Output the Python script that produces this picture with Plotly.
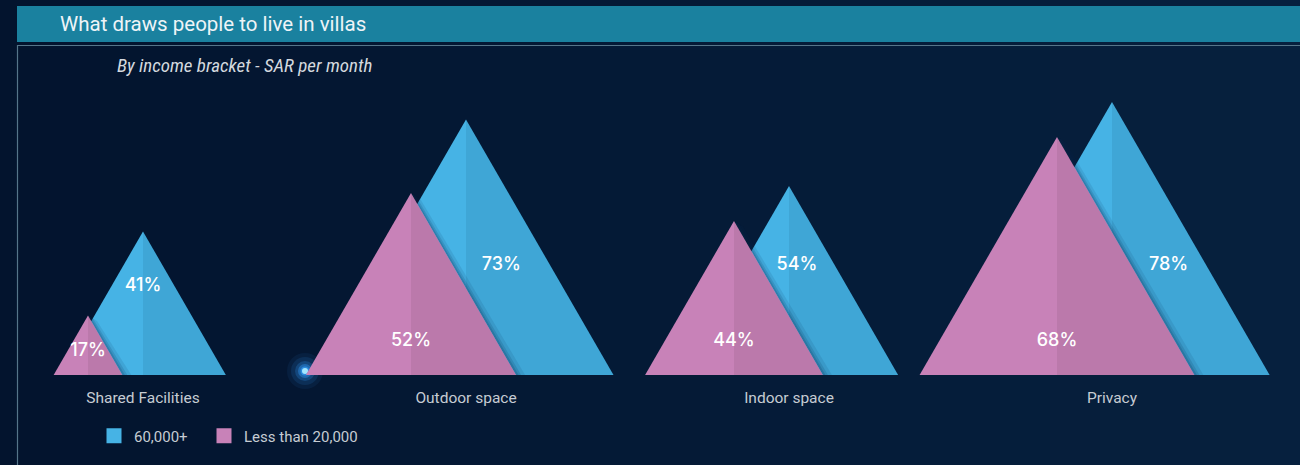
import math
import plotly.graph_objects as go

# ---- data -------------------------------------------------------------
categories = ["Shared Facilities", "Outdoor space", "Indoor space", "Privacy"]
high_income = [41, 73, 54, 78]      # 60,000+ SAR per month
low_income = [17, 52, 44, 68]       # Less than 20,000 SAR per month
series_names = ["60,000+", "Less than 20,000"]

title_text = "What draws people to live in villas"
subtitle_text = "By income bracket - SAR per month"

# ---- geometry / style -------------------------------------------------
W, H = 1300, 465
M_L, M_R, M_T, M_B = 0, 0, 95, 90
PLOT_W = W - M_L - M_R
PLOT_H = H - M_T - M_B
Y_MAX = 80                              # percent range of the value axis
PX_PER_UNIT = PLOT_H / Y_MAX            # pixels per percentage point
CAT_START, CAT_STEP = 143, 323          # category centres on the x axis (px units)
LOW_OFFSET = -55                        # low-income peak sits left of centre

BLUE_L, BLUE_R = "#46b3e5", "#3fa6d6"
PINK_L, PINK_R = "#c882b8", "#bb79ab"
BG = "#041a36"


def half_width(v):
    # equilateral triangle: half base (x units == px) from height in value units
    return v * PX_PER_UNIT / math.sqrt(3)


def px_to_paper(px, py):
    return (px - M_L) / PLOT_W, (H - M_B - py) / PLOT_H


centres = [CAT_START + i * CAT_STEP for i in range(len(categories))]

fig = go.Figure()


def add_triangle(cx, v, col_l, col_r):
    hw = half_width(v)
    fig.add_trace(go.Scatter(x=[cx - hw, cx, cx, cx - hw], y=[0, v, 0, 0], mode="lines",
                             fill="toself", fillcolor=col_l, line=dict(width=0),
                             hoverinfo="skip", showlegend=False))
    fig.add_trace(go.Scatter(x=[cx, cx, cx + hw, cx], y=[0, v, 0, 0], mode="lines",
                             fill="toself", fillcolor=col_r, line=dict(width=0),
                             hoverinfo="skip", showlegend=False))


label_x, label_y, label_t = [], [], []
plabel_x, plabel_y, plabel_t = [], [], []

for c, hv, lv in zip(centres, high_income, low_income):
    pc = c + LOW_OFFSET
    add_triangle(c, hv, BLUE_L, BLUE_R)

    # soft shadow cast by the front triangle onto the back one
    hwp = half_width(lv)
    for off, alpha in [(9, 0.10), (5, 0.14), (2.5, 0.18)]:
        fig.add_trace(go.Scatter(
            x=[pc, pc + off, pc + hwp + off, pc + hwp, pc],
            y=[lv, lv - off / PX_PER_UNIT * 0.6, 0, 0, lv], mode="lines", fill="toself",
            fillcolor=f"rgba(10,40,80,{alpha})", line=dict(width=0),
            hoverinfo="skip", showlegend=False))

    add_triangle(pc, lv, PINK_L, PINK_R)

    # value label on the visible part of the back triangle
    yl = min(110 / PX_PER_UNIT, 0.62 * hv)
    hwb = half_width(hv)
    br = c + hwb * (1 - yl / hv)
    bl = c - hwb * (1 - yl / hv)
    pr = pc + hwp * (1 - yl / lv) if yl < lv else -1e9
    label_x.append((max(bl, pr) + br) / 2)
    label_y.append(yl)
    label_t.append(f"{hv}%")

    plabel_x.append(pc)
    plabel_y.append(min(34 / PX_PER_UNIT, 0.4 * lv))
    plabel_t.append(f"{lv}%")

label_font = dict(family="Inter, Roboto, sans-serif", size=18, color="#ffffff", weight=500)
fig.add_trace(go.Scatter(x=label_x, y=label_y, text=label_t, mode="text",
                         textfont=label_font, hoverinfo="skip", showlegend=False))
fig.add_trace(go.Scatter(x=plabel_x, y=plabel_y, text=plabel_t, mode="text",
                         textfont=label_font, hoverinfo="skip", showlegend=False))

# legend entries, each in its own legend box
for name, col, lg in zip(series_names, [BLUE_L, PINK_L], ["legend", "legend2"]):
    fig.add_trace(go.Scatter(x=[None], y=[None], mode="markers", name=name, legend=lg,
                             marker=dict(symbol="square", size=15, color=col)))

# ---- decorations ------------------------------------------------------
shapes = []
# background gradient (darker on the left)
n_bands = 26
c0, c1 = (3, 20, 46), (6, 32, 62)
for i in range(n_bands):
    t = i / (n_bands - 1)
    col = tuple(round(a + (b - a) * t) for a, b in zip(c0, c1))
    x0, _ = px_to_paper(i * W / n_bands, 0)
    x1, _ = px_to_paper((i + 1) * W / n_bands + 1, 0)
    _, y0 = px_to_paper(0, H)
    _, y1 = px_to_paper(0, 0)
    shapes.append(dict(type="rect", xref="paper", yref="paper", x0=x0, x1=x1, y0=y0, y1=y1,
                       fillcolor="rgb(%d,%d,%d)" % col, line=dict(width=0), layer="below"))

# title bar
bx0, by0 = px_to_paper(17, 6)
bx1, by1 = px_to_paper(W, 42)
shapes.append(dict(type="rect", xref="paper", yref="paper", x0=bx0, x1=bx1, y0=by1, y1=by0,
                   fillcolor="#1a819f", line=dict(width=0), layer="below"))
# panel outline
fx0, fy0 = px_to_paper(17.5, 45.5)
fx1, fy1 = px_to_paper(W + 5, H + 5)
shapes.append(dict(type="rect", xref="paper", yref="paper", x0=fx0, x1=fx1, y0=fy1, y1=fy0,
                   fillcolor="rgba(0,0,0,0)", line=dict(width=1.2, color="#557589"), layer="below"))

# glowing spark
gx, gy = 305, 371
for r, a in [(18, 0.07), (14, 0.12), (10, 0.22), (7, 0.38), (4.5, 0.6)]:
    x0, y0 = px_to_paper(gx - r, gy - r)
    x1, y1 = px_to_paper(gx + r, gy + r)
    shapes.append(dict(type="circle", xref="paper", yref="paper", x0=x0, x1=x1, y0=y1, y1=y0,
                       fillcolor=f"rgba(50,160,255,{a})", line=dict(width=0), layer="below"))
x0, y0 = px_to_paper(gx - 3, gy - 3)
x1, y1 = px_to_paper(gx + 3, gy + 3)
shapes.append(dict(type="circle", xref="paper", yref="paper", x0=x0, x1=x1, y0=y1, y1=y0,
                   fillcolor="rgba(170,235,255,0.95)", line=dict(width=0), layer="below"))

annotations = []
tx, ty = px_to_paper(58, 24)
annotations.append(dict(xref="paper", yref="paper", x=tx, y=ty, text=title_text, showarrow=False,
                        xanchor="left", yanchor="middle",
                        font=dict(family="Roboto, sans-serif", size=20.5, color="#eef4f7")))
sx, sy = px_to_paper(115, 66)
annotations.append(dict(xref="paper", yref="paper", x=sx, y=sy, text=f"<i>{subtitle_text}</i>",
                        showarrow=False, xanchor="left", yanchor="middle",
                        font=dict(family="Liberation Sans Narrow, Roboto Condensed, Roboto, sans-serif",
                                  size=19, color="#d4d9df")))

legend_font = dict(family="Roboto, sans-serif", size=15, color="#c6ccd3")
l1x, ly = px_to_paper(94, 436)
l2x, _ = px_to_paper(204, 436)
legend_common = dict(orientation="h", y=ly, xanchor="left", yanchor="middle",
                     bgcolor="rgba(0,0,0,0)", font=legend_font,
                     itemclick=False, itemdoubleclick=False)

fig.update_layout(
    width=W, height=H,
    margin=dict(l=M_L, r=M_R, t=M_T, b=M_B, pad=0),
    paper_bgcolor=BG, plot_bgcolor="rgba(0,0,0,0)",
    shapes=shapes, annotations=annotations,
    showlegend=True,
    legend=dict(x=l1x, **legend_common),
    legend2=dict(x=l2x, **legend_common),
    xaxis=dict(range=[0, PLOT_W], showgrid=False, zeroline=False, showline=False,
               tickvals=centres, ticktext=categories, ticks="outside", ticklen=8,
               tickcolor="rgba(0,0,0,0)", tickfont=dict(family="Roboto, sans-serif", size=15.5, color="#c6ccd3"),
               fixedrange=True),
    yaxis=dict(range=[0, Y_MAX], showgrid=False, zeroline=False, showline=False,
               showticklabels=False, fixedrange=True),
    hovermode=False,
)

fig.write_html("out.html")
